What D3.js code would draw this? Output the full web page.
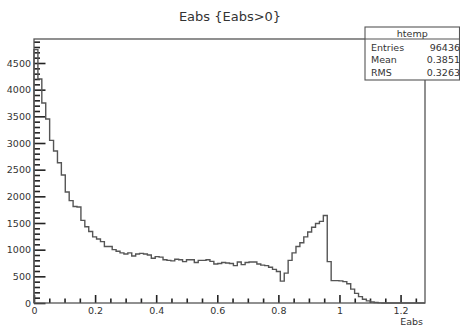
<!DOCTYPE html>
<html>
<head>
<meta charset="utf-8">
<script src="https://cdn.jsdelivr.net/npm/d3@7"></script>
<style>
  body { margin: 0; background: #fff; }
  svg { display: block; }
  text { font-family: "DejaVu Sans", sans-serif; fill: #333; }
</style>
</head>
<body>
<div id="chart-area"></div>
<script>
let width = 460,
    height = 327;

// histogram htemp : Eabs {Eabs>0}, 100 bins
let xLow = 0, xHigh = 1.28;
let counts = [
  4750, 4200, 3750, 3450, 3050, 2850, 2630, 2400, 2080, 1920,
  1810, 1800, 1550, 1430, 1340, 1240, 1200, 1150, 1060, 1060,
  1000, 970, 940, 920, 940, 880, 920, 930, 920, 900,
  840, 870, 860, 810, 800, 790, 820, 810, 775, 810,
  810, 760, 800, 800, 810, 780, 730, 740, 760, 750,
  740, 700, 770, 720, 760, 770, 770, 730, 710, 700,
  670, 630, 590, 410, 560, 800, 940, 1060, 1130, 1240,
  1330, 1420, 1490, 1530, 1640, 775, 420, 420, 415, 400,
  360, 260, 180, 120, 70, 40, 20, 8, 3, 0,
  0, 0, 0, 0, 0, 0, 0, 0, 0, 0
];
let yMax = 4950;

let xMajor = [0, 0.2, 0.4, 0.6, 0.8, 1, 1.2];
let yMajor = [0, 500, 1000, 1500, 2000, 2500, 3000, 3500, 4000, 4500];
let xMinor = [0.05, 0.1, 0.15, 0.25, 0.3, 0.35, 0.45, 0.5, 0.55, 0.65, 0.7, 0.75,
              0.85, 0.9, 0.95, 1.05, 1.1, 1.15, 1.25];

let titleText = "Eabs {Eabs>0}";
let xTitle = "Eabs";
let statsName = "htemp";
let statsLabels = ["Entries", "Mean", "RMS"];
let statsValues = ["96436", "0.3851", "0.3263"];

let frame = {left: 34, top: 39, right: 425, bottom: 303};
let lineColor = "#555";
let tickColor = "#222";

let svg = d3.select("#chart-area")
    .append("svg")
    .attr("width", width)
    .attr("height", height);

let x = d3.scaleLinear().domain([xLow, xHigh]).range([frame.left, frame.right]);
let y = d3.scaleLinear().domain([0, yMax]).range([frame.bottom, frame.top]);

// y minor ticks every 100
let yMinor = [];
for (let v = 100; v < yMax; v += 100) {
    if (v % 500 !== 0) yMinor.push(v);
}

let fh = frame.bottom - frame.top,
    fw = frame.right - frame.left;

//x axis, ticks pointing inside
svg.append("g")
    .attr("transform", "translate(0," + frame.bottom + ")")
    .call(d3.axisBottom(x).tickValues(xMajor).tickSizeInner(-8).tickSizeOuter(0).tickPadding(4)
        .tickFormat(d3.format("")))
    .call(g => g.select(".domain").remove())
    .call(g => g.selectAll("line").attr("stroke", tickColor).attr("stroke-width", 1.6));

svg.append("g")
    .attr("transform", "translate(0," + frame.bottom + ")")
    .call(d3.axisBottom(x).tickValues(xMinor).tickSizeInner(-4.5).tickSizeOuter(0).tickFormat(""))
    .call(g => g.select(".domain").remove())
    .call(g => g.selectAll("line").attr("stroke", tickColor).attr("stroke-width", 1.6));

//y axis
svg.append("g")
    .attr("transform", "translate(" + frame.left + ",0)")
    .call(d3.axisLeft(y).tickValues(yMajor).tickSizeInner(-11.5).tickSizeOuter(0).tickPadding(3)
        .tickFormat(d3.format("d")))
    .call(g => g.select(".domain").remove())
    .call(g => g.selectAll("line").attr("stroke", tickColor).attr("stroke-width", 1.6));

svg.append("g")
    .attr("transform", "translate(" + frame.left + ",0)")
    .call(d3.axisLeft(y).tickValues(yMinor).tickSizeInner(-6).tickSizeOuter(0).tickFormat(""))
    .call(g => g.select(".domain").remove())
    .call(g => g.selectAll("line").attr("stroke", tickColor).attr("stroke-width", 1.6));

svg.selectAll(".tick text")
    .style("font-family", "'DejaVu Sans', sans-serif")
    .style("font-size", "9.5px")
    .attr("fill", "#333");

//histogram outline as steps
let pts = [[x(xLow), y(0)]];
let bw = (xHigh - xLow) / counts.length;
counts.forEach(function(c, i){
    pts.push([x(xLow + i * bw), y(c)]);
    pts.push([x(xLow + (i + 1) * bw), y(c)]);
});
pts.push([x(xHigh), y(0)]);

svg.append("path")
    .attr("d", d3.line()(pts))
    .attr("fill", "none")
    .attr("stroke", lineColor)
    .attr("stroke-width", 1.4);

//frame
svg.append("rect")
    .attr("x", frame.left)
    .attr("y", frame.top)
    .attr("width", fw)
    .attr("height", fh)
    .attr("fill", "none")
    .attr("stroke", lineColor)
    .attr("stroke-width", 1.3);

//title
svg.append("text")
    .attr("x", 230)
    .attr("y", 21)
    .attr("text-anchor", "middle")
    .style("font-size", "13px")
    .text(titleText);

svg.append("text")
    .attr("x", 423)
    .attr("y", 325)
    .attr("text-anchor", "end")
    .style("font-size", "9.5px")
    .text(xTitle);

//stats box
let box = {left: 365, top: 27, right: 459.5, bottom: 80};
let stats = svg.append("g");
stats.append("rect")
    .attr("x", box.left)
    .attr("y", box.top)
    .attr("width", box.right - box.left)
    .attr("height", box.bottom - box.top)
    .attr("fill", "#fff")
    .attr("stroke", lineColor)
    .attr("stroke-width", 1.1);
stats.append("line")
    .attr("x1", box.left).attr("x2", box.right)
    .attr("y1", 39).attr("y2", 39)
    .attr("stroke", lineColor)
    .attr("stroke-width", 1.1);
stats.append("text")
    .attr("x", (box.left + box.right) / 2)
    .attr("y", 36.5)
    .attr("text-anchor", "middle")
    .style("font-size", "9.5px")
    .text(statsName);
statsLabels.forEach(function(l, i){
    stats.append("text")
        .attr("x", 371)
        .attr("y", 51 + i * 12.3)
        .style("font-size", "9.5px")
        .text(l);
    stats.append("text")
        .attr("x", 460)
        .attr("y", 51 + i * 12.3)
        .attr("text-anchor", "end")
        .style("font-size", "9.5px")
        .text(statsValues[i]);
});
</script>
</body>
</html>
